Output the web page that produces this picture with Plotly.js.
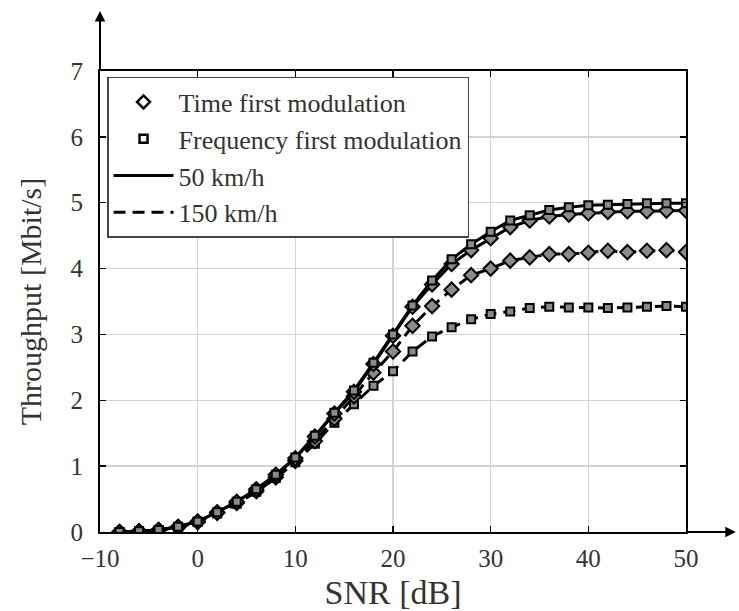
<!DOCTYPE html>
<html>
<head>
<meta charset="utf-8">
<script src="https://cdn.plot.ly/plotly-3.0.1.min.js"></script>
<style>html,body{margin:0;padding:0;background:#fff;}#chart{width:739px;height:611px;}</style>
</head>
<body>
<div id="chart"></div>
<script>
// SNR [dB]
const snr = [-8,-6,-4,-2,0,2,4,6,8,10,12,14,16,18,20,22,24,26,28,30,32,34,36,38,40,42,44,46,48,50];
// Throughput [Mbit/s]
const timeFirst50  = [0,0.01,0.03,0.08,0.16,0.30,0.46,0.65,0.87,1.12,1.45,1.80,2.13,2.55,2.98,3.42,3.76,4.07,4.28,4.46,4.63,4.73,4.79,4.82,4.84,4.86,4.87,4.87,4.88,4.88];
const freqFirst50  = [0,0.01,0.03,0.08,0.16,0.30,0.46,0.65,0.87,1.13,1.46,1.81,2.15,2.57,3.00,3.44,3.82,4.14,4.37,4.56,4.73,4.81,4.89,4.93,4.96,4.97,4.98,4.99,4.99,4.99];
const timeFirst150 = [0,0.01,0.03,0.07,0.15,0.29,0.44,0.62,0.83,1.08,1.38,1.72,2.06,2.42,2.74,3.13,3.43,3.68,3.90,4.00,4.12,4.17,4.22,4.22,4.24,4.27,4.25,4.27,4.28,4.25];
const freqFirst150 = [0,0.01,0.03,0.07,0.15,0.28,0.43,0.61,0.82,1.06,1.34,1.66,1.94,2.22,2.44,2.74,2.97,3.11,3.23,3.31,3.35,3.40,3.42,3.41,3.41,3.40,3.41,3.42,3.43,3.42];
const xTicks = [-10,0,10,20,30,40,50];
const yTicks = [0,1,2,3,4,5,6,7];
const legendNames = ['Time first modulation','Frequency first modulation','50 km/h','150 km/h'];

const FONT = '"Liberation Serif", "Times New Roman", serif';
const dashPat = '12px,7px';
const markerFill = '#8a8a8a';

function series(y, symbol, dash, size) {
  return {
    x: snr, y: y, type: 'scatter', mode: 'lines+markers', showlegend: false,
    line: {color: '#000', width: 3, dash: dash},
    marker: {symbol: symbol, size: size, color: markerFill, line: {color: '#000', width: 2}}
  };
}

const traces = [
  series(freqFirst150, 'square', dashPat, 8),
  series(timeFirst150, 'diamond', dashPat, 11),
  series(timeFirst50, 'diamond', 'solid', 11),
  series(freqFirst50, 'square', 'solid', 8),
  {x:[null], y:[null], type:'scatter', mode:'markers', name: legendNames[0],
   marker:{symbol:'diamond', size:10, color:'#fff', line:{color:'#000', width:2.5}}},
  {x:[null], y:[null], type:'scatter', mode:'markers', name: legendNames[1],
   marker:{symbol:'square', size:8, color:'#fff', line:{color:'#000', width:2.5}}},
  {x:[null], y:[null], type:'scatter', mode:'lines', name: legendNames[2],
   line:{color:'#000', width:3}},
  {x:[null], y:[null], type:'scatter', mode:'lines', name: legendNames[3],
   line:{color:'#000', width:3, dash: dashPat}}
];

const layout = {
  width: 739, height: 611,
  margin: {l: 100, r: 53, t: 71, b: 79, pad: 0},
  paper_bgcolor: '#fff', plot_bgcolor: '#fff',
  font: {family: FONT, color: '#333', size: 23},
  showlegend: true,
  legend: {
    x: 0.012, y: 0.987, xanchor: 'left', yanchor: 'top',
    bgcolor: '#fff', bordercolor: '#444', borderwidth: 1.5,
    font: {family: FONT, size: 26, color: '#333'},
    itemwidth: 60, tracegroupgap: 0, traceorder: 'normal'
  },
  xaxis: {
    range: [-10, 50], tickvals: xTicks, ticktext: xTicks.map(v => v < 0 ? '\u2212' + Math.abs(v) : String(v)),
    showgrid: true, gridcolor: '#d4d4d4', gridwidth: 1.5, zeroline: false,
    showline: true, linecolor: '#000', linewidth: 2, mirror: 'ticks',
    ticks: 'inside', ticklen: 6, tickwidth: 1.5, tickcolor: '#000',
    ticklabelstandoff: 3,
    tickfont: {family: FONT, size: 25, color: '#333'},
    title: {text: 'SNR [dB]', font: {family: FONT, size: 34, color: '#333'}, standoff: 14}
  },
  yaxis: {
    range: [0, 7], tickvals: yTicks,
    showgrid: true, gridcolor: '#d4d4d4', gridwidth: 1.5, zeroline: false,
    showline: true, linecolor: '#000', linewidth: 2, mirror: 'ticks',
    ticks: 'inside', ticklen: 6, tickwidth: 1.5, tickcolor: '#000',
    ticklabelstandoff: 10,
    tickfont: {family: FONT, size: 25, color: '#333'},
    title: {text: 'Throughput [Mbit/s]', font: {family: FONT, size: 30, color: '#333'}, standoff: 20}
  },
  shapes: [
    {type:'line', xref:'paper', yref:'paper', x0:0, x1:0, y0:1, y1:1.115, line:{color:'#000', width:2}},
    {type:'line', xref:'paper', yref:'paper', x0:1, x1:1.075, y0:0, y1:0, line:{color:'#000', width:2}}
  ],
  annotations: [
    {xref:'paper', yref:'paper', x:0, y:1.13, ax:0, ay:20, showarrow:true, arrowhead:2, arrowsize:1.4, arrowwidth:1.5, arrowcolor:'#000', text:''},
    {xref:'paper', yref:'paper', x:1.085, y:0, ax:-20, ay:0, showarrow:true, arrowhead:2, arrowsize:1.4, arrowwidth:1.5, arrowcolor:'#000', text:''}
  ]
};

Plotly.newPlot('chart', traces, layout, {displayModeBar: false, staticPlot: true});
</script>
</body>
</html>
